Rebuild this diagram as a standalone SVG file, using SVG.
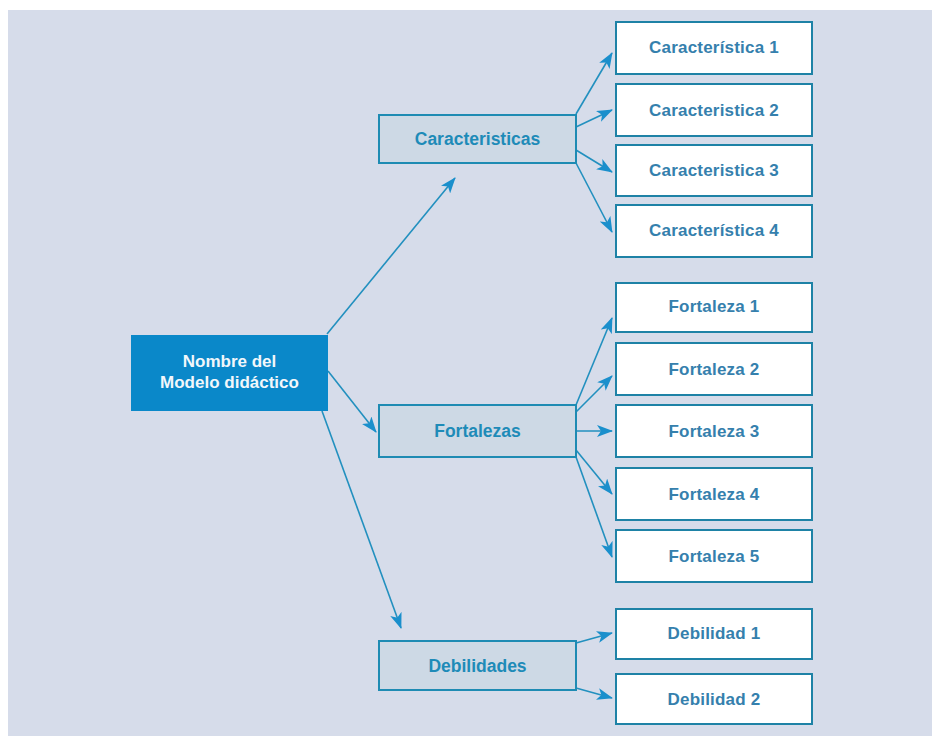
<svg xmlns="http://www.w3.org/2000/svg" width="932" height="736" viewBox="0 0 932 736">
<style>
.mid rect{fill:#cdd9e5;stroke:#1e8bb3;stroke-width:2}
.leaf rect{fill:#ffffff;stroke:#1e82a6;stroke-width:2}
text{font-family:"Liberation Sans",Arial,sans-serif;font-weight:bold;text-anchor:middle}
.mid text{fill:#1e8bb8;font-size:17.5px}
.leaf text{fill:#3580ad;font-size:17px;letter-spacing:0.2px}
.conn line{stroke:#2290bf;stroke-width:1.6;marker-end:url(#ah)}
</style>
<defs>
<marker id="ah" markerWidth="16" markerHeight="12" refX="15" refY="6" orient="auto" markerUnits="userSpaceOnUse">
<path d="M0,0 L16,6 L0,12 L4,6 Z" fill="#1a8fcc"/>
</marker>
</defs>
<rect x="0" y="0" width="932" height="736" fill="#ffffff"/>
<rect x="8" y="10" width="924" height="726" fill="#d6dcea"/>
<g class="conn">
<line x1="327" y1="334" x2="455" y2="178"/>
<line x1="328" y1="371" x2="376" y2="432"/>
<line x1="322" y1="411" x2="401" y2="628"/>
<line x1="576" y1="114" x2="612" y2="53"/>
<line x1="576" y1="127" x2="612" y2="110"/>
<line x1="576" y1="150" x2="612" y2="172"/>
<line x1="576" y1="163" x2="612" y2="232"/>
<line x1="576" y1="405" x2="612" y2="318"/>
<line x1="576" y1="412" x2="612" y2="376"/>
<line x1="576" y1="431" x2="612" y2="431"/>
<line x1="576" y1="450" x2="612" y2="494"/>
<line x1="576" y1="457" x2="612" y2="557"/>
<line x1="576" y1="643" x2="612" y2="633"/>
<line x1="576" y1="688" x2="612" y2="698"/>
</g>
<g id="main">
<rect x="131" y="335" width="197" height="76" fill="#0a88c9"/>
<text x="229.5" y="367" fill="#f2f7fb" font-size="17">Nombre del</text>
<text x="229.5" y="388" fill="#f2f7fb" font-size="17">Modelo didáctico</text>
</g>
<g id="caracteristicas" class="mid">
<rect x="379" y="115" width="197" height="48"/>
<text x="477.5" y="145">Caracteristicas</text>
</g>
<g id="fortalezas" class="mid">
<rect x="379" y="405" width="197" height="52"/>
<text x="477.5" y="437">Fortalezas</text>
</g>
<g id="debilidades" class="mid">
<rect x="379" y="641" width="197" height="49"/>
<text x="477.5" y="672">Debilidades</text>
</g>
<g id="c1" class="leaf"><rect x="616" y="22" width="196" height="52"/><text x="714" y="53">Característica 1</text></g>
<g id="c2" class="leaf"><rect x="616" y="84" width="196" height="52"/><text x="714" y="116">Caracteristica 2</text></g>
<g id="c3" class="leaf"><rect x="616" y="145" width="196" height="51"/><text x="714" y="176">Caracteristica 3</text></g>
<g id="c4" class="leaf"><rect x="616" y="205" width="196" height="52"/><text x="714" y="236">Característica 4</text></g>
<g id="f1" class="leaf"><rect x="616" y="283" width="196" height="49"/><text x="714" y="312">Fortaleza 1</text></g>
<g id="f2" class="leaf"><rect x="616" y="343" width="196" height="52"/><text x="714" y="375">Fortaleza 2</text></g>
<g id="f3" class="leaf"><rect x="616" y="405" width="196" height="52"/><text x="714" y="437">Fortaleza 3</text></g>
<g id="f4" class="leaf"><rect x="616" y="468" width="196" height="52"/><text x="714" y="500">Fortaleza 4</text></g>
<g id="f5" class="leaf"><rect x="616" y="530" width="196" height="52"/><text x="714" y="562">Fortaleza 5</text></g>
<g id="d1" class="leaf"><rect x="616" y="609" width="196" height="50"/><text x="714" y="639">Debilidad 1</text></g>
<g id="d2" class="leaf"><rect x="616" y="674" width="196" height="50"/><text x="714" y="705">Debilidad 2</text></g>
</svg>
